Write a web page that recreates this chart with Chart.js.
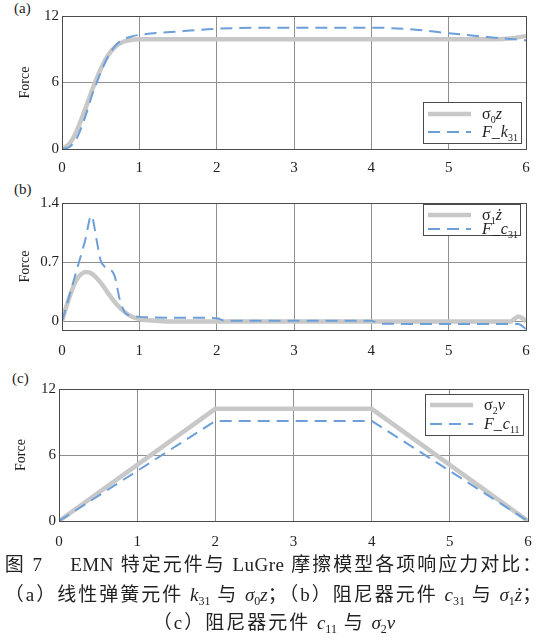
<!DOCTYPE html>
<html>
<head>
<meta charset="utf-8">
<script src="https://cdn.jsdelivr.net/npm/chart.js@4.4.1/dist/chart.umd.min.js"></script>
<style>
  html, body { margin: 0; padding: 0; background: #fff; }
  body { width: 548px; height: 643px; overflow: hidden; position: relative; }
  .panel { position: absolute; left: 0; width: 548px; }
  .tag { position: absolute; font-family: "Liberation Serif", serif; font-size: 15px; color: #222; }
  .cap { position: absolute; left: 0; width: 548px; text-align: center; white-space: nowrap;
         font-family: "Liberation Serif", "Noto Sans CJK SC", serif; font-size: 19px; color: #222;
         letter-spacing: 2px; line-height: 22px; }
  .cap i { font-style: italic; letter-spacing: 0; }
  .cap .lat { letter-spacing: 0.5px; }
  .cap sub { font-size: 12px; vertical-align: -4px; line-height: 0; letter-spacing: 0; }
</style>
</head>
<body>
<div class="tag" style="left:14px;top:0px">(a)</div>
<div class="tag" style="left:14px;top:181px">(b)</div>
<div class="tag" style="left:12px;top:370px">(c)</div>
<div class="panel" style="top:0"><canvas id="cvA" width="548" height="180"></canvas></div>
<div class="panel" style="top:180px"><canvas id="cvB" width="548" height="185"></canvas></div>
<div class="panel" style="top:365px"><canvas id="cvC" width="548" height="190"></canvas></div>
<div class="cap" style="top:554px">图 <span class="lat">7</span>　 <span class="lat">EMN</span> 特定元件与 <span class="lat">LuGre</span> 摩擦模型各项响应力对比：</div>
<div class="cap" style="top:584px">（a）线性弹簧元件 <i>k</i><sub>31</sub> 与 <i>σ</i><sub>0</sub><i>z</i>；（b）阻尼器元件 <i>c</i><sub>31</sub> 与 <i>σ</i><sub>1</sub><i>ż</i>；</div>
<div class="cap" style="top:612px">（c）阻尼器元件 <i>c</i><sub>11</sub> 与 <i>σ</i><sub>2</sub><i>v</i></div>
<script>
// ---- (a) spring element k31 vs sigma0*z ----
const tSpringRef = [0, 0.1, 0.2, 0.3, 0.4, 0.5, 0.6, 0.7, 0.8, 0.9, 1.0, 1.2, 1.5, 2, 3, 4, 5, 5.6, 5.8, 6];
const springRef  = [0, 0.5, 1.8, 3.6, 5.5, 7.2, 8.5, 9.3, 9.7, 9.85, 9.9, 9.9, 9.9, 9.9, 9.9, 9.9, 9.9, 9.9, 9.97, 10.2];
const tSpringEmn = [0, 0.1, 0.2, 0.3, 0.4, 0.45, 0.5, 0.6, 0.7, 0.8, 0.9, 1.0, 1.5, 2, 3, 4, 4.5, 5, 5.5, 6];
const springEmn  = [0, 0.2, 1.1, 2.9, 5.1, 6.0, 6.9, 8.4, 9.4, 9.9, 10.15, 10.3, 10.6, 10.85, 10.95, 10.95, 10.8, 10.45, 10.1, 9.8];

// ---- (b) damper element c31 vs sigma1*dz/dt ----
const tDampRef = [0, 0.05, 0.1, 0.15, 0.2, 0.25, 0.3, 0.35, 0.4, 0.5, 0.6, 0.7, 0.8, 0.9, 1.0, 1.2, 1.5, 2, 3, 4, 5, 5.8, 5.85, 5.9, 5.95, 6];
const dampRef  = [0, 0.16, 0.3, 0.42, 0.51, 0.56, 0.585, 0.58, 0.555, 0.46, 0.33, 0.21, 0.12, 0.06, 0.03, 0.01, 0, 0, 0, 0, 0, 0, 0.03, 0.06, 0.04, 0];
const tDampEmn = [0, 0.1, 0.2, 0.3, 0.38, 0.45, 0.5, 0.55, 0.62, 0.68, 0.75, 0.82, 0.9, 1.0, 1.5, 2, 2.1, 3, 4, 4.1, 5, 5.9, 6];
const dampEmn  = [0, 0.32, 0.64, 0.96, 1.25, 0.95, 0.72, 0.65, 0.62, 0.54, 0.25, 0.1, 0.07, 0.055, 0.045, 0.04, 0.01, 0.01, 0.01, -0.025, -0.03, -0.03, -0.09];

// ---- (c) damper element c11 vs sigma2*v ----
const tVisc    = [0, 2, 4, 6];
const viscRef  = [0, 10.2, 10.2, 0];
const viscEmn  = [0, 9.1, 9.1, 0];

// axis ticks
const xTicks  = [0, 1, 2, 3, 4, 5, 6];
const yTicksA = [0, 6, 12];
const yTicksB = [0, 0.7, 1.4];
const yTicksC = [0, 6, 12];

// legend entries: [text, style] with style n = upright, i = italic, s = subscript
const legendA = [[['σ', 'n'], ['0', 's'], ['z', 'i']], [['F', 'i'], ['_', 'n'], ['k', 'i'], ['31', 's']]];
const legendB = [[['σ', 'n'], ['1', 's'], ['ż', 'i']], [['F', 'i'], ['_', 'n'], ['c', 'i'], ['31', 's']]];
const legendC = [[['σ', 'n'], ['2', 's'], ['v', 'i']], [['F', 'i'], ['_', 'n'], ['c', 'i'], ['11', 's']]];

const SERIF = '"Liberation Serif", "Times New Roman", serif';
const GRAY = '#c8c8c8';
const BLUE = '#6c9fd9';

const pts = (ts, ys) => ts.map((t, i) => ({ x: t, y: ys[i] }));

// closed box around the plotting area
const framePlugin = {
  id: 'frame',
  afterDatasetsDraw(chart) {
    const { ctx, chartArea: a } = chart;
    ctx.save();
    ctx.strokeStyle = '#4a4a4a';
    ctx.lineWidth = 1;
    ctx.strokeRect(Math.round(a.left) + 0.5, Math.round(a.top) + 0.5,
                   Math.round(a.right - a.left), Math.round(a.bottom - a.top));
    ctx.restore();
  }
};

// legend with subscripted math labels
const mathLegend = {
  id: 'mathLegend',
  afterDraw(chart, args, o) {
    const { ctx, chartArea: a } = chart;
    const x0 = Math.round(a.right - o.right - o.width);
    const y0 = Math.round(o.anchor === 'bottom' ? a.bottom - o.bottom - o.height : a.top + o.top);
    ctx.save();
    ctx.fillStyle = '#fff';
    ctx.fillRect(x0, y0, o.width, o.height);
    ctx.strokeStyle = '#4a4a4a';
    ctx.lineWidth = 1;
    ctx.strokeRect(x0 + 0.5, y0 + 0.5, o.width, o.height);
    chart.data.datasets.forEach((ds, i) => {
      const y = y0 + o.rows[i];
      ctx.save();
      ctx.strokeStyle = ds.borderColor;
      ctx.lineWidth = ds.borderWidth;
      ctx.setLineDash(ds.borderDash || []);
      ctx.lineCap = 'butt';
      ctx.beginPath();
      ctx.moveTo(x0 + 5, y);
      ctx.lineTo(x0 + 48, y);
      ctx.stroke();
      ctx.restore();
      let x = x0 + 59;
      ctx.fillStyle = '#222';
      ctx.textBaseline = 'alphabetic';
      o.labels[i].forEach(([txt, st]) => {
        let yy = y + 5;
        if (st === 's') { ctx.font = '10px ' + SERIF; yy = y + 9; }
        else if (st === 'i') { ctx.font = 'italic 16px ' + SERIF; }
        else { ctx.font = '16px ' + SERIF; }
        ctx.fillText(txt, x, yy);
        x += ctx.measureText(txt).width + (txt === '_' ? 1 : 0);
      });
    });
    ctx.restore();
  }
};

function makePanel(id, cfg) {
  const tickFont = { family: SERIF, size: 15 };
  return new Chart(document.getElementById(id), {
    type: 'line',
    data: {
      datasets: [
        { label: 'ref', data: cfg.ref, borderColor: GRAY, borderWidth: 4.5, pointRadius: 0,
          cubicInterpolationMode: cfg.smooth ? 'monotone' : 'default', tension: 0, order: 2 },
        { label: 'emn', data: cfg.emn, borderColor: BLUE, borderWidth: 2, borderDash: [12, 7], pointRadius: 0,
          cubicInterpolationMode: cfg.smooth ? 'monotone' : 'default', tension: 0, order: 1 }
      ]
    },
    options: {
      responsive: false,
      animation: false,
      events: [],
      layout: { padding: { top: cfg.padTop, right: cfg.padRight, bottom: 0, left: 0 } },
      plugins: {
        legend: { display: false },
        tooltip: { enabled: false },
        mathLegend: cfg.legend
      },
      scales: {
        x: {
          type: 'linear', min: 0, max: 6,
          afterBuildTicks(s) { s.ticks = xTicks.map(v => ({ value: v })); },
          afterFit(s) { s.height = cfg.xh; },
          ticks: { font: tickFont, color: '#222', padding: cfg.xPad, maxRotation: 0 },
          grid: { color: '#8f8f8f', lineWidth: 1, drawTicks: false },
          border: { color: '#4a4a4a' }
        },
        y: {
          type: 'linear', min: cfg.yMin, max: cfg.yMax,
          afterBuildTicks(s) { s.ticks = cfg.yTicks.map(v => ({ value: v })); },
          afterFit(s) { s.width = cfg.yw; },
          ticks: { font: tickFont, color: '#222', padding: 3 },
          grid: { color: '#8f8f8f', lineWidth: 1, drawTicks: false },
          border: { color: '#4a4a4a' },
          title: { display: true, text: 'Force', font: { family: SERIF, size: 14 }, color: '#222',
                   padding: { top: cfg.titlePad, bottom: 0 } }
        }
      }
    },
    plugins: [framePlugin, mathLegend]
  });
}

makePanel('cvA', {
  ref: pts(tSpringRef, springRef), emn: pts(tSpringEmn, springEmn), smooth: true,
  yMin: 0, yMax: 12, yTicks: yTicksA,
  padTop: 16, padRight: 22, yw: 62, xh: 31, xPad: 10, titlePad: 16.6,
  legend: { anchor: 'bottom', right: 5, bottom: 6, width: 98, height: 41, rows: [12, 30], labels: legendA }
});

makePanel('cvB', {
  ref: pts(tDampRef, dampRef), emn: pts(tDampEmn, dampEmn), smooth: true,
  yMin: -0.1, yMax: 1.4, yTicks: yTicksB,
  padTop: 23, padRight: 22, yw: 62, xh: 35, xPad: 12, titlePad: 16.6,
  legend: { anchor: 'top', right: 6, top: 1, width: 97, height: 31, rows: [11, 25], labels: legendB }
});

makePanel('cvC', {
  ref: pts(tVisc, viscRef), emn: pts(tVisc, viscEmn), smooth: false,
  yMin: 0, yMax: 12, yTicks: yTicksC,
  padTop: 24, padRight: 20, yw: 59, xh: 34, xPad: 12, titlePad: 12.6,
  legend: { anchor: 'top', right: 5, top: 5, width: 98, height: 41, rows: [11, 30], labels: legendC }
});
</script>
</body>
</html>
